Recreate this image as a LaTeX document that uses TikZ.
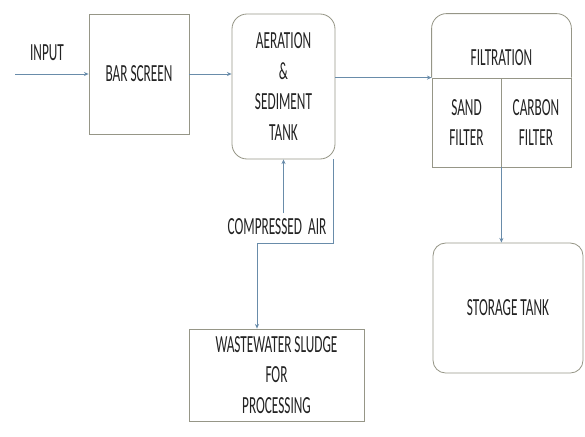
\documentclass[tikz,border=0pt]{standalone}
\usepackage{fontspec}
\setmainfont{Carlito}[FakeStretch=0.54]
\usetikzlibrary{positioning, arrows.meta}
\definecolor{boxgray}{RGB}{150,150,135}
\definecolor{flowblue}{RGB}{105,140,170}
\definecolor{inkgray}{RGB}{35,35,35}

\begin{document}
\begin{tikzpicture}[x=0.03cm, y=-0.03cm,
  >={Stealth[length=4pt, width=3.5pt]},
  lbl/.style={text=inkgray, inner sep=0pt, align=center,
    font=\fontsize{21}{26}\selectfont},
  unit/.style={lbl, draw=boxgray, line width=0.7pt},
  tank/.style={unit, rounded corners=0.45cm},
  outline/.style={draw=boxgray, line width=0.7pt},
  flow/.style={->, draw=flowblue, line width=0.7pt},
]
\useasboundingbox (0,0) rectangle (585,436);

% === main line ===
\node[unit, minimum width=3cm, minimum height=3.6cm] (bar) at (139,74) {BAR SCREEN};
\node[tank, minimum width=3.09cm, minimum height=4.35cm] (aer) at (283.5,86.5)
  {AERATION\\ \&\\ SEDIMENT\\ TANK};

% Filtration unit
\node[unit, minimum width=2.07cm, minimum height=2.67cm] (sand) at (466.5,122.5)
  {SAND\\ FILTER};
\node[unit, minimum width=2.1cm, minimum height=2.67cm] (carbon) at (536,122.5)
  {CARBON\\ FILTER};
\draw[outline, rounded corners=0.45cm] (sand.north west) -- ++(0,-64) -| (carbon.north east);
\node[lbl] (ftop) at (501.5,58) {FILTRATION};

\node[tank, rounded corners=0.38cm, minimum width=4.5cm, minimum height=3.9cm]
  (store) at (508,308) {STORAGE TANK};

% === side streams ===
\node[unit, minimum width=5.25cm, minimum height=2.76cm] (sludge) at (276.5,375)
  {WASTEWATER SLUDGE\\ FOR\\ PROCESSING};

\node[lbl] (inlbl) at (47,53) {INPUT};
\node[lbl] (airlbl) at (277,227) {COMPRESSED~ AIR};

\coordinate (src) at (15,74);
\coordinate (air) at (283.5,213);
\coordinate (turn) at (257,243);

% Flows
\draw[flow] (src) -- (bar.west);
\draw[flow] (bar.east) -- (bar.east -| aer.west);
\draw[flow] (aer.east |- sand.north west) -- (sand.north west);
\draw[flow] (sand.south east) -- (sand.south east |- store.north);
\draw[flow] (air) -- (aer.south);
\draw[flow] ([xshift=-0.06cm]aer.south east) |- (turn) -- (turn |- sludge.north);

\end{tikzpicture}
\end{document}
